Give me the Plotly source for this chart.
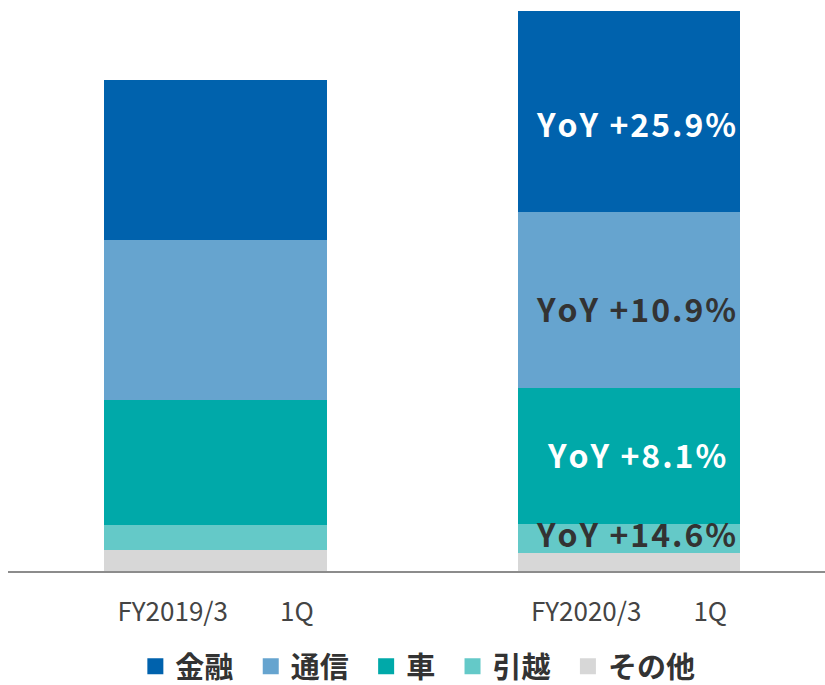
import plotly.graph_objects as go

# ---- data ----
categories = ["FY2019/3　　1Q", "FY2020/3　　1Q"]
series_names = ["その他", "引越", "車", "通信", "金融"]  # bottom -> top
values_sonota = [21.4, 18.4]
values_hikkoshi = [24.3, 28.3]
values_kuruma = [125.7, 136.3]
values_tsushin = [159.6, 176.4]
values_kinyu = [159.7, 201.0]
yoy_labels = {"金融": "YoY +25.9%", "通信": "YoY +10.9%", "車": "YoY +8.1%", "引越": "YoY +14.6%"}

series_values = [values_sonota, values_hikkoshi, values_kuruma, values_tsushin, values_kinyu]
colors = {"金融": "#0062AD", "通信": "#66A4CF", "車": "#00A9A9", "引越": "#64C9C8", "その他": "#D7D7D7"}
label_colors = {"金融": "#FFFFFF", "通信": "#333333", "車": "#FFFFFF", "引越": "#333333"}
label_shift = {"金融": -12, "通信": -8, "車": 2, "引越": 5}


def spaced(s):
    # widen letter spacing with hair spaces
    return "\u200a".join(list(s))


xpos = list(range(len(categories)))
fig = go.Figure()
for name, vals in zip(series_names, series_values):
    fig.add_trace(go.Bar(
        x=xpos, y=vals, name=name, width=0.539,
        marker=dict(color=colors[name], line=dict(width=0)),
        hoverinfo="skip", showlegend=False,
    ))

# legend entries (square markers)
for name in series_names:
    fig.add_trace(go.Scatter(
        x=[None], y=[None], mode="markers", name=name + "\u00a0\u2009",
        marker=dict(symbol="square", size=16, color=colors[name]),
        hoverinfo="skip",
    ))

# YoY annotations on the second bar
base = 0.0
for name, vals in zip(series_names, series_values):
    v = vals[1]
    if name in yoy_labels:
        fig.add_annotation(
            x=xpos[1] + 0.017, y=base + v / 2, text=spaced(yoy_labels[name]),
            showarrow=False, yshift=label_shift[name],
            font=dict(family="Noto Sans CJK JP", size=32, color=label_colors[name], weight="bold"),
        )
    base += v

fig.update_layout(
    barmode="stack",
    width=825, height=685,
    margin=dict(l=8, r=0, t=10, b=114, autoexpand=False),
    plot_bgcolor="white", paper_bgcolor="white",
    showlegend=True,
    legend=dict(
        orientation="h", x=0.509, xanchor="center", y=-0.170, yanchor="middle",
        traceorder="reversed", itemsizing="trace",
        font=dict(family="Noto Sans CJK JP", size=29, color="#333333", weight="bold"),
    ),
    xaxis=dict(
        range=[-0.502, 1.474], tickvals=xpos, ticktext=categories,
        showline=True, linecolor="#8C8C8C", linewidth=2,
        ticks="outside", ticklen=17, tickcolor="rgba(0,0,0,0)",
        showgrid=False, zeroline=False, automargin=False,
        tickfont=dict(family="Noto Sans CJK JP", size=26, color="#444444"),
    ),
    yaxis=dict(range=[0, 561], visible=False, showgrid=False, automargin=False),
)

fig.write_html(
    "out.html",
    config={"displayModeBar": False},
    post_script="document.body.style.margin='0';document.body.style.overflow='hidden';",
)
